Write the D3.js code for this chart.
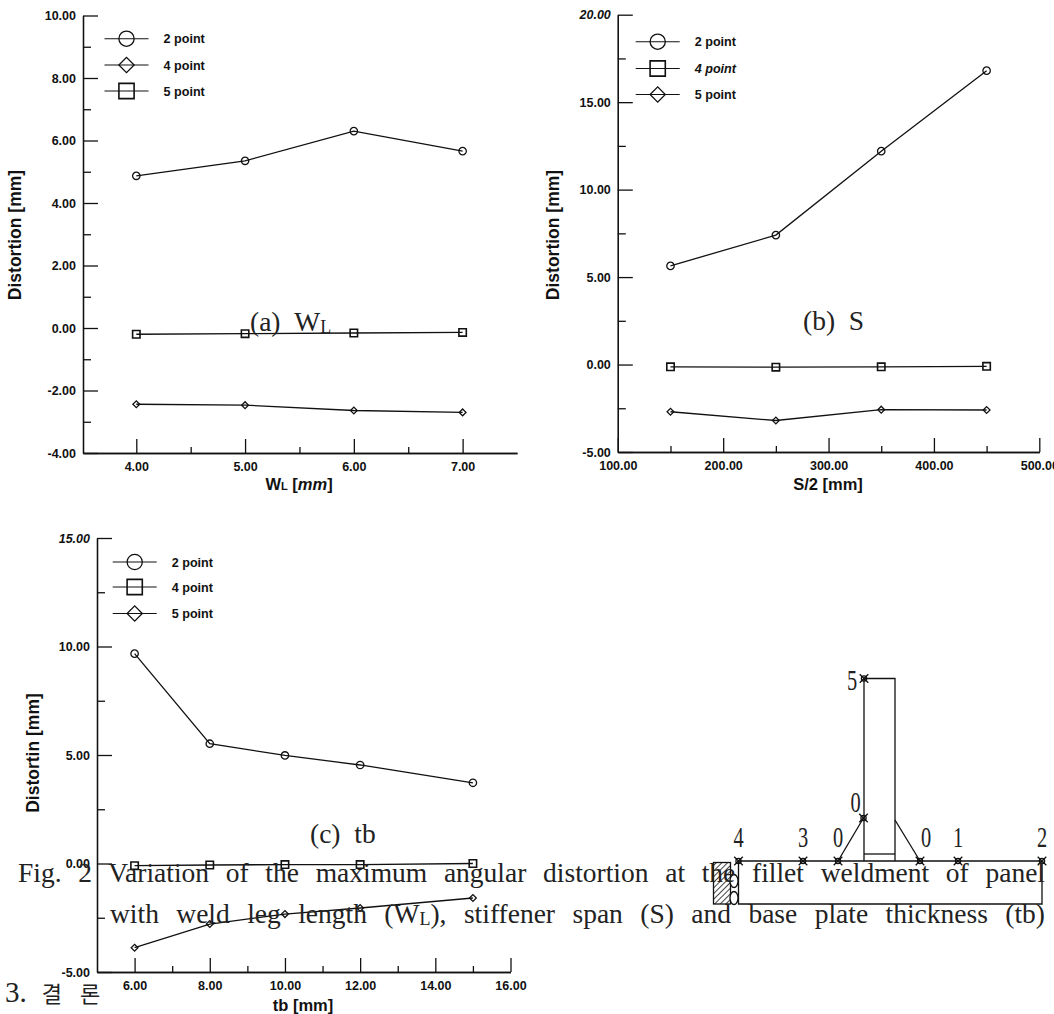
<!DOCTYPE html>
<html>
<head>
<meta charset="utf-8">
<script src="https://cdn.jsdelivr.net/npm/d3@7"></script>
<style>
  html, body { margin: 0; padding: 0; background: #fff; }
  svg { display: block; }
  .tick text, .lbl { font-family: "Liberation Sans", Arial, sans-serif; font-weight: bold; fill: #111; }
  .serif { font-family: "Liberation Serif", "Times New Roman", serif; fill: #222; }
</style>
</head>
<body>
<svg id="fig" width="1054" height="1014"></svg>
<script>
'use strict';

// (a) weld leg length
const wlValues = [4, 5, 6, 7];
const wlPoint2 = [4.87, 5.35, 6.3, 5.66];
const wlPoint4 = [-2.44, -2.47, -2.64, -2.7];
const wlPoint5 = [-0.2, -0.18, -0.16, -0.14];
const wlMajorY = [-4, -2, 0, 2, 4, 6, 8, 10];
const wlMinorY = [-3, -1, 1, 3, 5, 7, 9];
const wlMajorX = [4, 5, 6, 7];
const wlMinorX = [4.5, 5.5, 6.5];

// (b) stiffener span
const spanValues = [150, 250, 350, 450];
const spanPoint2 = [5.64, 7.4, 12.2, 16.8];
const spanPoint4 = [-0.13, -0.15, -0.13, -0.1];
const spanPoint5 = [-2.7, -3.2, -2.58, -2.6];
const spanMajorY = [-5, 0, 5, 10, 15, 20];
const spanMinorY = [-2.5, 2.5, 7.5, 12.5, 17.5];
const spanMajorX = [100, 200, 300, 400, 500];
const spanMinorX = [150, 250, 350, 450];

// (c) base plate thickness
const tbValues = [6, 8, 10, 12, 15];
const tbPoint2 = [9.67, 5.52, 4.98, 4.54, 3.72];
const tbPoint4 = [-0.1, -0.07, -0.05, -0.05, 0];
const tbPoint5 = [-3.88, -2.79, -2.33, -2.05, -1.59];
const tbMajorY = [-5, 0, 5, 10, 15];
const tbMinorY = [-2.5, 2.5, 7.5, 12.5];
const tbMajorX = [6, 8, 10, 12, 14, 16];
const tbMinorX = [7, 9, 11, 13, 15];

// section sketch
const nodeLabels = ['4', '3', '0', '0', '1', '2', '0', '5'];
const nodeX = [738.5, 803, 838, 920, 958, 1042, 863.5, 864];
const nodeY = [861, 861, 861, 861, 861, 861, 818, 678.5];

const captionLine1 = 'Fig. 2 Variation of the maximum angular distortion at the fillet weldment of panel';

const svg = d3.select('#fig');
svg.append('rect').attr('width', 1054).attr('height', 1014).attr('fill', '#fff');

const symbols = { circle: d3.symbolCircle, square: d3.symbolSquare, diamond: d3.symbolSquare };

function marker(g, kind, x, y, r) {
  // d3 symbol sizes are areas; the diamond is just a square turned 45deg
  const size = kind === 'circle' ? Math.PI * r * r : kind === 'square' ? 4 * r * r : 2 * r * r;
  g.append('path')
    .attr('d', d3.symbol(symbols[kind], size)())
    .attr('transform', 'translate(' + x + ',' + y + ')' + (kind === 'diamond' ? ' rotate(45)' : ''))
    .attr('fill', 'none')
    .attr('stroke', '#111')
    .attr('stroke-width', kind === 'square' ? 1.6 : 1.3);
} // marker

function drawChart(c) {
  const g = svg.append('g');
  const x = d3.scaleLinear().domain(c.xDomain).range(c.xRange);
  const y = d3.scaleLinear().domain(c.yDomain).range(c.yRange);
  const fmt = (v) => v.toFixed(2); // plain hyphen, not the d3 minus sign

  const yAxis = d3.axisLeft(y).tickValues(c.majorY).tickSize(-15).tickSizeOuter(0).tickPadding(7).tickFormat(fmt);
  const yMinor = d3.axisLeft(y).tickValues(c.minorY).tickSize(-8).tickSizeOuter(0).tickFormat('');
  const xAxis = d3.axisBottom(x).tickValues(c.majorX).tickSize(-14).tickSizeOuter(0).tickPadding(9).tickFormat(fmt);
  const xMinor = d3.axisBottom(x).tickValues(c.minorX).tickSize(-6).tickSizeOuter(0).tickFormat('');

  g.append('g').attr('transform', 'translate(' + c.xRange[0] + ',0)').call(yMinor);
  const yG = g.append('g').attr('transform', 'translate(' + c.xRange[0] + ',0)').call(yAxis);
  g.append('g').attr('transform', 'translate(0,' + c.yRange[0] + ')').call(xMinor);
  g.append('g').attr('transform', 'translate(0,' + c.yRange[0] + ')').call(xAxis);
  g.selectAll('.domain, .tick line').attr('stroke', '#111').attr('stroke-width', 1.3);
  g.selectAll('.tick text').attr('font-size', 12.5);
  if (c.italicTop) {
    yG.selectAll('.tick text').filter((d) => d === c.yDomain[1]).attr('font-style', 'italic');
  }

  const line = d3.line().x((d) => x(d[0])).y((d) => y(d[1]));
  c.series.forEach((s) => {
    const pts = c.xValues.map((v, i) => [v, s.values[i]]);
    g.append('path').datum(pts).attr('d', line)
      .attr('fill', 'none').attr('stroke', '#111').attr('stroke-width', 1.3);
    pts.forEach((p) => marker(g, s.kind, x(p[0]), y(p[1]), s.kind === 'square' ? 3.7 : s.kind === 'circle' ? 3.7 : 3.4));
  });

  // legend
  c.series.forEach((s, i) => {
    const ly = c.legendY[i];
    g.append('line').attr('x1', c.legendX - 22).attr('x2', c.legendX + 22)
      .attr('y1', ly).attr('y2', ly).attr('stroke', '#111').attr('stroke-width', 1.1);
    marker(g, s.kind, c.legendX, ly, 7.6);
    g.append('text').attr('class', 'lbl').attr('x', c.legendX + 37).attr('y', ly + 4.5)
      .attr('font-size', 12.6).attr('font-style', s.it ? 'italic' : null).text(s.name);
  });

  // axis titles
  g.append('text').attr('class', 'lbl').attr('font-size', 17.5)
    .attr('text-anchor', 'middle')
    .attr('transform', 'translate(' + c.yTitleX + ',' + c.yTitleY + ') rotate(-90)')
    .text(c.yTitle);
  const xt = g.append('text').attr('class', 'lbl').attr('font-size', 16.5)
    .attr('text-anchor', 'middle').attr('x', c.xTitleX).attr('y', c.xTitleY);
  c.xTitle.forEach((p) => {
    const t = xt.append('tspan').text(p.t);
    if (p.sub) t.attr('font-size', 11);
    if (p.it) t.attr('font-style', 'italic');
  });
} // drawChart

drawChart({
  xDomain: [3.51, 7.5], xRange: [83, 517], yDomain: [-4, 10], yRange: [453, 15.5],
  majorX: wlMajorX, minorX: wlMinorX, majorY: wlMajorY, minorY: wlMinorY, xValues: wlValues,
  series: [
    { name: '2 point', kind: 'circle', values: wlPoint2 },
    { name: '4 point', kind: 'diamond', values: wlPoint4 },
    { name: '5 point', kind: 'square', values: wlPoint5 }
  ],
  legendX: 126.5, legendY: [38.7, 65, 91],
  yTitle: 'Distortion [mm]', yTitleX: 20.5, yTitleY: 235,
  xTitle: [{ t: 'W' }, { t: 'L', sub: true }, { t: ' [' }, { t: 'mm', it: true }, { t: ']' }],
  xTitleX: 299, xTitleY: 490
});

drawChart({
  xDomain: [100, 500], xRange: [617.8, 1039.3], yDomain: [-5, 20], yRange: [452, 14.7],
  majorX: spanMajorX, minorX: spanMinorX, majorY: spanMajorY, minorY: spanMinorY, xValues: spanValues,
  italicTop: true,
  series: [
    { name: '2 point', kind: 'circle', values: spanPoint2 },
    { name: '4 point', kind: 'square', values: spanPoint4, it: true },
    { name: '5 point', kind: 'diamond', values: spanPoint5 }
  ],
  legendX: 657.7, legendY: [41.7, 68.5, 94.5],
  yTitle: 'Distortion [mm]', yTitleX: 558.5, yTitleY: 235,
  xTitle: [{ t: 'S/2 [mm]' }],
  xTitleX: 828, xTitleY: 490
});

drawChart({
  xDomain: [5, 16], xRange: [97, 510.5], yDomain: [-5, 15], yRange: [972, 538],
  majorX: tbMajorX, minorX: tbMinorX, majorY: tbMajorY, minorY: tbMinorY, xValues: tbValues,
  italicTop: true,
  series: [
    { name: '2 point', kind: 'circle', values: tbPoint2 },
    { name: '4 point', kind: 'square', values: tbPoint4 },
    { name: '5 point', kind: 'diamond', values: tbPoint5 }
  ],
  legendX: 134.7, legendY: [562, 587, 613.5],
  yTitle: 'Distortin [mm]', yTitleX: 38.5, yTitleY: 753,
  xTitle: [{ t: 'tb [mm]' }],
  xTitleX: 303, xTitleY: 1011
});

// section sketch, drawn under the caption text
const sketch = svg.append('g').attr('fill', 'none').attr('stroke', '#111').attr('stroke-width', 1.3);
const pathOf = d3.line();
const pos = nodeX.map((v, i) => [v, nodeY[i]]);
sketch.append('path').attr('d', pathOf([pos[0], pos[5], [pos[5][0], 904], [pos[0][0], 904]]) + 'Z');
sketch.append('path').attr('d', pathOf([[pos[7][0], 861], pos[7], [895, pos[7][1]], [895, 861]]));
sketch.append('path').attr('d', pathOf([[pos[7][0], 854], [895, 854]]));
sketch.append('path').attr('d', pathOf([pos[2], pos[6]]));
sketch.append('path').attr('d', pathOf([[895, 820], pos[3]]));

const hatch = svg.append('defs').append('pattern').attr('id', 'hatch')
  .attr('width', 4).attr('height', 4).attr('patternUnits', 'userSpaceOnUse')
  .attr('patternTransform', 'rotate(45)');
hatch.append('line').attr('x1', 0).attr('x2', 0).attr('y1', 0).attr('y2', 4)
  .attr('stroke', '#111').attr('stroke-width', 1.6);
sketch.append('rect').attr('x', 713.5).attr('y', 862.5).attr('width', 17).attr('height', 41.5).attr('fill', 'url(#hatch)');
sketch.append('ellipse').attr('cx', 734).attr('cy', 898).attr('rx', 4).attr('ry', 6.5).attr('fill', '#fff');
sketch.append('ellipse').attr('cx', 734).attr('cy', 881).attr('rx', 4).attr('ry', 6.5).attr('fill', '#fff');

pos.forEach((p, i) => {
  sketch.append('path').attr('d', d3.symbol(d3.symbolX, 50)()).attr('transform', 'translate(' + p + ')');
  sketch.append('circle').attr('cx', p[0]).attr('cy', p[1]).attr('r', 2.6);
  const side = i === 7 ? [-12, 11] : i === 6 ? [-8, -6] : i === 3 ? [6, -14] : [0, -14];
  // the sketch digits are tall and narrow
  svg.append('text').attr('class', 'serif').attr('font-size', 24).attr('text-anchor', 'middle')
    .attr('transform', 'translate(' + (p[0] + side[0]) + ',' + (p[1] + side[1]) + ') scale(0.85,1.25)')
    .text(nodeLabels[i]);
});

// captions
function fitLine(t, width) {
  const spaces = t.text().split(' ').length - 1;
  const len = t.node().getComputedTextLength();
  t.style('word-spacing', ((width - len) / spaces) + 'px');
} // fitLine

const capA = svg.append('text').attr('class', 'serif').attr('font-size', 27.5).attr('x', 250).attr('y', 331);
capA.append('tspan').text('(a)\u00a0\u00a0W');
capA.append('tspan').attr('font-size', 18).attr('dy', 2).text('L');
svg.append('text').attr('class', 'serif').attr('font-size', 27.5).attr('x', 803).attr('y', 330).text('(b)\u00a0\u00a0S');
svg.append('text').attr('class', 'serif').attr('font-size', 27.5).attr('x', 310).attr('y', 843).text('(c)\u00a0\u00a0tb');

const line1 = svg.append('text').attr('class', 'serif').attr('font-size', 27.5).attr('x', 18).attr('y', 881.5).text(captionLine1);
fitLine(line1, 1027);

const line2 = svg.append('text').attr('class', 'serif').attr('font-size', 27.5).attr('x', 110).attr('y', 922.5);
line2.append('tspan').text('with weld leg length (W');
line2.append('tspan').attr('font-size', 18).attr('dy', 2).text('L');
line2.append('tspan').attr('dy', -2).text('), stiffener span (S) and base plate thickness (tb)');
fitLine(line2, 935);

const head = svg.append('text').attr('x', 5).attr('y', 1001.5).attr('fill', '#222');
head.append('tspan').attr('font-family', '"Liberation Serif", serif').attr('font-size', 29).text('3.');
head.append('tspan').attr('font-family', '"Noto Sans CJK KR", sans-serif').attr('font-size', 22).attr('dx', 15).text('결');
head.append('tspan').attr('font-family', '"Noto Sans CJK KR", sans-serif').attr('font-size', 22).attr('dx', 18).text('론');
</script>
</body>
</html>
